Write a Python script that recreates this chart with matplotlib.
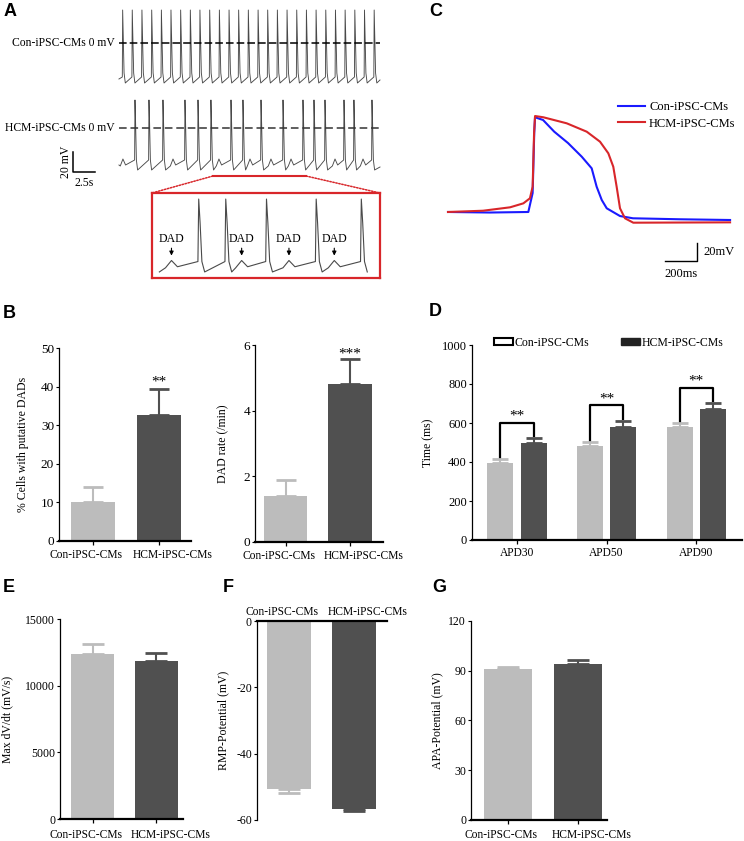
import numpy as np
import matplotlib
matplotlib.use('Agg')
import matplotlib.pyplot as plt
from matplotlib.patches import ConnectionPatch, Patch

plt.rcParams.update({
    'font.family': 'Liberation Serif',
    'font.size': 8.5,
    'axes.linewidth': 0.9,
    'axes.unicode_minus': False,
    'xtick.major.width': 0.9,
    'ytick.major.width': 0.8,
})

# ---------------------------------------------------------------------------
# Data
# ---------------------------------------------------------------------------
GROUPS = ['Con-iPSC-CMs', 'HCM-iPSC-CMs']

# Panel A: spontaneous traces (time in s, potential in mV)
con_spikes = [0.42, 1.51, 2.61, 3.72, 4.82, 5.91, 7.01, 8.11, 9.20, 10.31,
              11.41, 12.51, 13.60, 14.70, 15.81, 16.90, 18.00, 19.10, 20.20,
              21.30, 22.40, 23.50, 24.60, 25.70, 26.80, 27.90, 29.00]
hcm_spikes = [1.82, 3.41, 5.00, 7.50, 8.98, 10.45, 12.73, 14.09, 16.14,
              18.64, 20.91, 22.16, 23.41, 25.57, 26.70, 28.75]
hcm_dads = [0.45, 6.14, 11.36, 14.89, 17.27, 19.55, 24.55, 27.73]
spike_dt = [-0.04, 0.0, 0.07, 0.16, 0.30]
con_spike_v = [-34, 33, 5, -30, -40]
hcm_spike_v = [-32, 28, 5, -32, -42]
dad_dt = [-0.3, 0.0, 0.3]
dad_v = [-38, -31, -37]
trace_end = 29.66
inset_window = [10.68, 21.25]

# Panel C: single action potentials (ms, mV)
con_ap_t = [0, 262, 502, 529, 539, 544, 594, 664, 750, 836, 898, 929, 961,
            992, 1075, 1156, 1450, 1763]
con_ap_v = [-52.2, -52.8, -52.2, -31.1, 35.6, 53.0, 50.0, 37.0, 24.4, 9.2,
            -3.7, -24.1, -38.9, -48.1, -56.7, -59.2, -60.3, -61.1]
hcm_ap_t = [0, 219, 388, 471, 512, 529, 538, 544, 596, 742, 867, 950, 1002,
            1033, 1054, 1075, 1106, 1158, 1763]
hcm_ap_v = [-52.2, -50.8, -47.0, -42.6, -37.0, -24.1, 35.6, 54.4, 53.0, 46.3,
            37.0, 25.9, 13.0, -1.9, -24.1, -48.1, -59.2, -64.1, -63.7]

# Panel B
dad_cells = [10.1, 32.6]
dad_cells_err = [3.8, 6.7]
dad_rate = [1.40, 4.81]
dad_rate_err = [0.48, 0.76]

# Panel D
apd_names = ['APD30', 'APD50', 'APD90']
apd_con = [393, 484, 580]
apd_con_err = [21, 19, 18]
apd_hcm = [499, 581, 670]
apd_hcm_err = [22, 29, 31]

# Panels E, F, G
max_dvdt = [12400, 11900]
max_dvdt_err = [750, 600]
rmp = [-50.8, -56.6]
rmp_err = [1.0, 0.7]
apa = [90.7, 93.7]
apa_err = [1.4, 2.6]

LIGHT = '#bcbcbc'
DARK = '#505050'
RED = '#d8262a'
TRACE = '#4a4a4a'

W, H = 744, 841
fig = plt.figure(figsize=(W / 100, H / 100), dpi=100)


def add_ax(left, top, right, bottom):
    return fig.add_axes([left / W, 1 - bottom / H, (right - left) / W, (bottom - top) / H])


def panel_label(s, x, y):
    fig.text(x / W, 1 - y / H, s, ha='center', va='center', fontsize=13,
             fontweight='bold', family='Liberation Sans')


def build_trace(spikes, spike_v, dads=(), start_v=-37, end_v=-37):
    pts = [(0.0, start_v), (trace_end, end_v)]
    for s in spikes:
        pts += [(s + d, v) for d, v in zip(spike_dt, spike_v)]
    for s in dads:
        pts += [(s + d, v) for d, v in zip(dad_dt, dad_v)]
    pts.sort()
    t, v = zip(*pts)
    return np.array(t), np.array(v)


# ---------------------------------------------------------------------------
# Panel A
# ---------------------------------------------------------------------------
axA = add_ax(60, 0, 385, 190)
axA.set_xlim(-6.70, 30.23)
axA.set_ylim(-62, 128)
axA.axis('off')
con_off = 85

t_con, v_con = build_trace(con_spikes, con_spike_v, start_v=-36, end_v=-37)
t_hcm, v_hcm = build_trace(hcm_spikes, hcm_spike_v, hcm_dads, start_v=-37, end_v=-39)
axA.plot(t_con, v_con + con_off, color=TRACE, lw=0.65)
axA.plot(t_hcm, v_hcm, color=TRACE, lw=0.65)
axA.plot([0, trace_end], [con_off, con_off], color='black', lw=1.1, ls=(0, (5, 2)))
axA.plot([0, trace_end], [0, 0], color='#333333', lw=1.1, ls=(0, (5, 2.5)))
axA.text(-0.45, con_off, 'Con-iPSC-CMs 0 mV', ha='right', va='center', fontsize=8.4)
axA.text(-0.45, 0, 'HCM-iPSC-CMs 0 mV', ha='right', va='center', fontsize=8.4)

# scale bar
axA.plot([-5.23, -5.23, -2.73], [-24, -44, -44], color='black', lw=1.1)
axA.text(-6.05, -34, '20 mV', rotation=90, ha='center', va='center', fontsize=8.5)
axA.text(-3.98, -55, '2.5s', ha='center', va='center', fontsize=8.5)

# zoom marker
axA.plot(inset_window, [-48, -48], color=RED, lw=1.5)

axI = add_ax(152, 193, 380, 278)
axI.set_xlim(10.38, 21.85)
axI.set_ylim(-47.8, 33.8)
axI.set_xticks([])
axI.set_yticks([])
for sp in axI.spines.values():
    sp.set_color(RED)
    sp.set_linewidth(1.6)
m = (t_hcm >= inset_window[0]) & (t_hcm <= inset_window[1])
axI.plot(t_hcm[m], v_hcm[m], color=TRACE, lw=0.8)
for d in hcm_dads:
    if inset_window[0] < d < inset_window[1]:
        axI.annotate('', xy=(d, -29), xytext=(d, -16.5),
                     arrowprops=dict(arrowstyle='-|>', color='black', lw=0.8,
                                     mutation_scale=6))
        axI.text(d, -10.5, 'DAD', ha='center', va='center', fontsize=8.5)

for xa, xb in [(inset_window[0], 0), (inset_window[1], 1)]:
    cp = ConnectionPatch(xyA=(xa, -48), coordsA=axA.transData,
                         xyB=(xb, 1), coordsB=axI.transAxes,
                         color=RED, lw=1.1, ls=(0, (1, 1)))
    fig.add_artist(cp)

panel_label('A', 10, 12)

# ---------------------------------------------------------------------------
# Panel C
# ---------------------------------------------------------------------------
axC = add_ax(440, 90, 740, 285)
axC.set_xlim(-50, 1825)
axC.set_ylim(-133.3, 83.3)
axC.axis('off')
axC.plot(con_ap_t, con_ap_v, color='#1a1aff', lw=1.5, label=GROUPS[0])
axC.plot(hcm_ap_t, hcm_ap_v, color=RED, lw=1.5, label=GROUPS[1])
axC.legend(loc='center left', bbox_to_anchor=(0.593, 0.869), frameon=False,
           fontsize=9, handlelength=2.2, handletextpad=0.3, labelspacing=0.35,
           borderpad=0, borderaxespad=0)
axC.plot([1356, 1556, 1556], [-106.7, -106.7, -86.7], color='black', lw=1.0)
axC.text(1594, -96.7, '20mV', ha='left', va='center', fontsize=9)
axC.text(1456, -121, '200ms', ha='center', va='center', fontsize=9)
panel_label('C', 436, 11)


# ---------------------------------------------------------------------------
# Bar panels
# ---------------------------------------------------------------------------
def style(ax, ylim, yticks, ylabel, label_px, ax_left, ax_w, yfs=8.5, top=False):
    ax.set_ylim(*ylim)
    ax.set_yticks(yticks)
    ax.spines['right'].set_visible(False)
    ax.spines['left'].set_linewidth(0.9)
    ax.tick_params(axis='y', length=2.5, pad=1, labelsize=yfs)
    if top:
        ax.spines['bottom'].set_visible(False)
        ax.spines['top'].set_linewidth(1.6)
        ax.xaxis.tick_top()
        ax.tick_params(axis='x', length=0)
    else:
        ax.spines['top'].set_visible(False)
        ax.spines['bottom'].set_linewidth(1.6)
        ax.tick_params(axis='x', length=3, pad=2, labelsize=8.3)
    ax.set_ylabel(ylabel, fontsize=8.5)
    ax.yaxis.set_label_coords((label_px - ax_left) / ax_w, 0.5)


def two_bars(ax, vals, errs, xlim, capsize=7, label_dy=-10, top=False):
    x = [0, 1]
    ax.bar(x, vals, width=0.68, color=[LIGHT, DARK], zorder=2)
    for xi, v, e, c in zip(x, vals, errs, [LIGHT, DARK]):
        yerr = [[0], [e]] if v > 0 else [[e], [0]]
        ax.errorbar(xi, v, yerr=yerr, fmt='none', ecolor=c, elinewidth=1.5,
                    capsize=capsize, capthick=2, zorder=3)
    ax.set_xlim(*xlim)
    ax.set_xticks(x)
    ax.set_xticklabels([])
    # group names sit a little apart from the tick marks in the original
    for xi, name, dx in zip(x, GROUPS, (-5, 10)):
        ax.annotate(name, xy=(xi, 1 if top else 0), xycoords=('data', 'axes fraction'),
                    xytext=(dx, label_dy), textcoords='offset points',
                    ha='center', va='center', fontsize=8.3, annotation_clip=False)


# B left
axB1 = add_ax(59, 348.3, 191, 540.7)
two_bars(axB1, dad_cells, dad_cells_err, (-0.515, 1.485))
style(axB1, (0, 50), [0, 10, 20, 30, 40, 50], '% Cells with putative DADs', 29, 59, 132, yfs=9.5)
axB1.text(1, dad_cells[1] + dad_cells_err[1] + 0.2, '**', ha='center', va='bottom', fontsize=11)

# B right
axB2 = add_ax(255, 345, 383, 541.7)
two_bars(axB2, dad_rate, dad_rate_err, (-0.473, 1.51))
style(axB2, (0, 6), [0, 2, 4, 6], 'DAD rate (/min)', 229, 255, 128, yfs=9.5)
axB2.text(1, dad_rate[1] + dad_rate_err[1] - 0.03, '***', ha='center', va='bottom', fontsize=11)
panel_label('B', 9, 313)

# D
axD = add_ax(471.7, 345, 741.7, 540)
xg = np.arange(len(apd_names))
off, bw = 0.186, 0.29
axD.bar(xg - off, apd_con, width=bw, color=LIGHT, zorder=2)
axD.bar(xg + off, apd_hcm, width=bw, color=DARK, zorder=2)
axD.errorbar(xg - off, apd_con, yerr=[[0] * 3, apd_con_err], fmt='none', ecolor=LIGHT,
             elinewidth=1.5, capsize=5.5, capthick=2, zorder=3)
axD.errorbar(xg + off, apd_hcm, yerr=[[0] * 3, apd_hcm_err], fmt='none', ecolor=DARK,
             elinewidth=1.5, capsize=5.5, capthick=2, zorder=3)
for i in range(len(apd_names)):
    yl = apd_con[i] + apd_con_err[i]
    yr = apd_hcm[i] + apd_hcm_err[i] + 10
    yt = apd_hcm[i] + apd_hcm_err[i] + 80
    axD.plot([i - off, i - off, i + off, i + off], [yl, yt, yt, yr], color='black', lw=1.6)
    axD.text(i, yt + 2, '**', ha='center', va='bottom', fontsize=11)
axD.set_xlim(-0.506, 2.508)
axD.set_xticks(xg)
axD.set_xticklabels(apd_names)
style(axD, (0, 1000), [0, 200, 400, 600, 800, 1000], 'Time (ms)', 434, 471.7, 270, yfs=9)
handles = [Patch(facecolor='white', edgecolor='black', lw=1.5),
           Patch(facecolor='#222222', edgecolor='#222222')]
axD.legend(handles, GROUPS, ncol=2, loc='center left', bbox_to_anchor=(0.083, 1.012),
           frameon=False, fontsize=8.5, handlelength=1.6, handleheight=0.6,
           handletextpad=0.15, columnspacing=2.7, borderpad=0, borderaxespad=0)
panel_label('D', 435, 312)

# E
axE = add_ax(60, 619.3, 182.7, 819)
two_bars(axE, max_dvdt, max_dvdt_err, (-0.519, 1.416), capsize=8, label_dy=-11.5)
style(axE, (0, 15000), [0, 5000, 10000, 15000], 'Max dV/dt (mV/s)', 13.3, 60, 122.7)
panel_label('E', 9, 588)

# F
axF = add_ax(256.7, 621, 387, 820)
two_bars(axF, rmp, rmp_err, (-0.502, 1.51), capsize=8, label_dy=6.8, top=True)
style(axF, (-60, 0), [-60, -40, -20, 0], 'RMP-Potential (mV)', 229, 256.7, 130.3, top=True)
panel_label('F', 228, 588)

# G
axG = add_ax(471, 620.7, 607, 820)
two_bars(axG, apa, apa_err, (-0.527, 1.416), capsize=8, label_dy=-10.8)
style(axG, (0, 120), [0, 30, 60, 90, 120], 'APA-Potential (mV)', 443, 471, 136)
panel_label('G', 439, 588)

fig.savefig('out.png', dpi=100)
